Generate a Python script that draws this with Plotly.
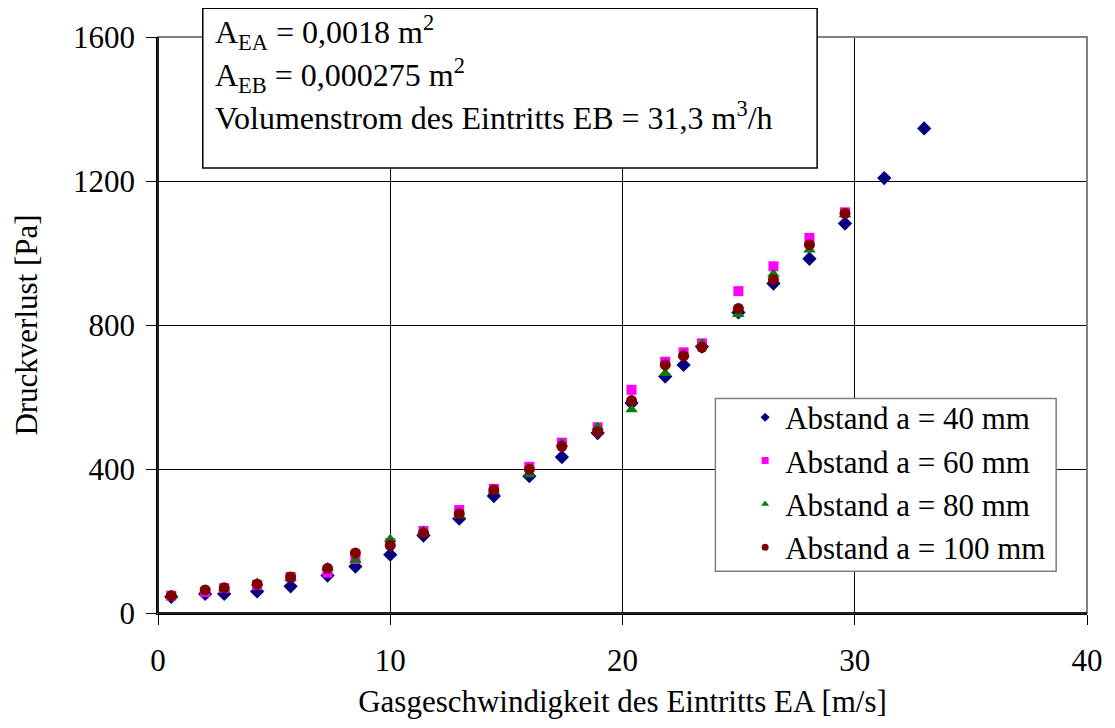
import plotly.graph_objects as go

# Gasgeschwindigkeit des Eintritts EA [m/s]
x_vals = [0.57, 2.03, 2.85, 4.27, 5.71, 7.30, 8.50, 10.0, 11.43, 12.97, 14.46, 15.99,
          17.39, 18.93, 20.39, 21.84, 22.63, 23.42, 24.99, 26.50, 28.05, 29.58, 31.27, 32.99]

# Druckverlust [Pa]
y_40 = [45, 53, 53, 60, 74, 104, 129, 162, 215, 262, 325, 380,
        433, 500, 583, 657, 689, 740, 835, 915, 984, 1082, 1208, 1346]
y_60 = [48, 58, 69, 78, 100, 112, 150, 194, 228, 286, 345, 406,
        473, 516, 620, 698, 724, 749, 894, 963, 1042, 1113]
y_80 = [48, 62, 68, 83, 97, 126, 147, 205, 228, 270, 339, 385,
        470, 516, 565, 666, 718, 748, 830, 942, 1009, 1107]
y_100 = [48, 64, 70, 80, 100, 124, 167, 188, 222, 276, 342, 399,
         463, 503, 590, 689, 714, 738, 846, 926, 1023, 1110]

series_names = ["Abstand a = 40 mm", "Abstand a = 60 mm", "Abstand a = 80 mm", "Abstand a = 100 mm"]
series_y = [y_40, y_60, y_80, y_100]
series_symbols = ["diamond", "square", "triangle-up", "circle"]
series_colors = ["#000080", "#FF00FF", "#008000", "#800000"]
series_sizes = [11, 10, 11, 11]

x_ticks = [0, 10, 20, 30, 40]
y_ticks = [0, 400, 800, 1200, 1600]

info_lines = ["A<sub>EA</sub> = 0,0018 m<sup>2</sup>",
              "A<sub>EB</sub> = 0,000275 m<sup>2</sup>",
              "Volumenstrom des Eintritts EB = 31,3 m<sup>3</sup>/h"]

FONT = "Liberation Serif, Times New Roman, serif"
FS = 31

fig = go.Figure()
for name, ys, sym, col, sz in zip(series_names, series_y, series_symbols, series_colors, series_sizes):
    fig.add_trace(go.Scatter(
        x=x_vals[:len(ys)], y=ys, mode="markers", name=name, showlegend=False,
        marker=dict(symbol=sym, color=col, size=sz, line=dict(width=0)),
    ))
# legend entries with small symbols
for name, sym, col in zip(series_names, series_symbols, series_colors):
    fig.add_trace(go.Scatter(
        x=[None], y=[None], mode="markers", name=name, showlegend=True,
        marker=dict(symbol=sym, color=col, size=7, line=dict(width=0)),
    ))

# info text lines, one annotation per line
PLOT_TOP, PLOT_H = 34, 579
line_tops = [7, 50, 93]
info_annotations = [dict(
    xref="paper", yref="paper", x=0.0482 + 12 / 933, y=(PLOT_TOP + PLOT_H - t) / PLOT_H,
    xanchor="left", yanchor="top", text=txt, align="left", showarrow=False,
    font=dict(family=FONT, size=32, color="black"),
    bgcolor="rgba(0,0,0,0)", borderwidth=0, borderpad=0,
) for txt, t in zip(info_lines, line_tops)]

fig.update_layout(
    width=1107, height=720,
    margin=dict(l=150, r=16, t=26, b=115, pad=0),
    paper_bgcolor="white", plot_bgcolor="white",
    font=dict(family=FONT, size=FS, color="black"),
    showlegend=True,
    legend=dict(
        x=0.632, y=0.386, xanchor="left", yanchor="top",
        bgcolor="rgba(0,0,0,0)", borderwidth=0,
        font=dict(family=FONT, size=FS, color="black"),
        itemsizing="trace", tracegroupgap=0,
    ),
    xaxis=dict(
        range=[0, 40], tickvals=x_ticks, ticktext=[str(v) for v in x_ticks],
        showgrid=True, gridcolor="black", gridwidth=1,
        showline=True, linecolor="black", linewidth=1.5,
        ticks="outside", ticklen=10, tickcolor="black", tickwidth=1,
        ticklabelstandoff=9,
        zeroline=False,
        title=dict(text="Gasgeschwindigkeit des Eintritts EA [m/s]", standoff=13,
                   font=dict(family=FONT, size=FS)),
        tickfont=dict(family=FONT, size=FS),
    ),
    yaxis=dict(
        range=[0, 1600], tickvals=y_ticks, ticktext=[str(v) for v in y_ticks],
        showgrid=True, gridcolor="black", gridwidth=1,
        showline=True, linecolor="black", linewidth=1.5,
        ticks="outside", ticklen=10, tickcolor="black", tickwidth=1,
        ticklabelstandoff=5,
        zeroline=False,
        title=dict(text="Druckverlust [Pa]", standoff=26,
                   font=dict(family=FONT, size=FS)),
        tickfont=dict(family=FONT, size=FS),
    ),
    shapes=[
        # plot area border (gray)
        dict(type="rect", xref="paper", yref="paper", x0=0, x1=1, y0=0, y1=1,
             line=dict(color="#808080", width=2), layer="above"),
        # black axis lines over border on left and bottom
        dict(type="line", xref="paper", yref="paper", x0=0, x1=1, y0=0, y1=0,
             line=dict(color="black", width=1.5), layer="above"),
        dict(type="line", xref="paper", yref="paper", x0=0, x1=0, y0=0, y1=1,
             line=dict(color="black", width=1.5), layer="above"),
        # legend box
        dict(type="rect", xref="paper", yref="paper", x0=0.600, x1=0.9668, y0=0.0724, y1=0.3724,
             fillcolor="white", line=dict(color="#808080", width=1.5), layer="above"),
        # info box
        dict(type="rect", xref="paper", yref="paper", x0=0.0482, x1=0.7095, y0=0.7725, y1=1.050,
             fillcolor="white", line=dict(color="black", width=1.5), layer="above"),
    ],
    annotations=info_annotations,
)

fig.write_html("out.html")
